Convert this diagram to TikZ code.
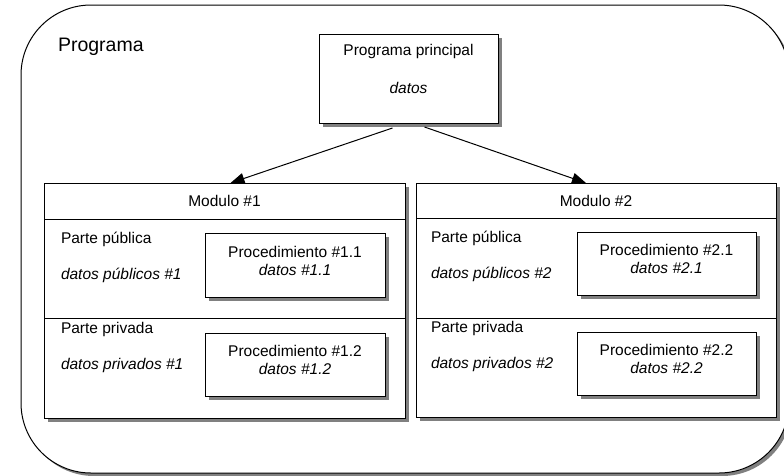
\documentclass[tikz,border=0pt]{standalone}
\usepackage{fontspec}
\setmainfont{Liberation Sans}
\usetikzlibrary{arrows.meta,shadows}
\begin{document}
\begin{tikzpicture}[
    x=1pt, y=-1pt,
    every node/.style={font=\fontsize{15.5}{18}\selectfont, inner sep=0pt, outer sep=0pt},
    box/.style={draw, fill=white, line width=1pt, anchor=north west,
        drop shadow={shadow xshift=4pt, shadow yshift=-4pt, opacity=1, fill=gray}},
    procbox/.style={box, align=center, text depth=9pt},
    txt/.style={anchor=west},
    sep/.style={line width=1pt},
    arrow/.style={-{Triangle[length=14pt,width=11pt]}, line width=1pt}
]
    \useasboundingbox (0,0) rectangle (784,475);

    % Program frame
    \draw[line width=1pt, rounded corners=70pt, fill=white,
        drop shadow={shadow xshift=3pt, shadow yshift=-3pt, opacity=1, fill=gray}]
        (21,5) rectangle (789,473);
    \node[txt, font=\fontsize{19.5}{22}\selectfont] (programa) at (58,47) {Programa};

    % Main program
    \node[box, minimum width=179pt, minimum height=89pt] (principal) at (319,34) {};
    \node (principaltitle) at ([yshift=-17pt]principal.north) {Programa principal};
    \node (principaldatos) at ([yshift=-54pt]principal.north) {\textit{datos}};

    % Module 1
    \node[box, minimum width=361pt, minimum height=235pt] (mod1) at (44,183) {};
    \node (mod1title) at ([yshift=-18pt]mod1.north) {Modulo \#1};
    \draw[sep] ([yshift=-36pt]mod1.north west) -- ([yshift=-36pt]mod1.north east);
    \draw[sep] ([yshift=-135pt]mod1.north west) -- ([yshift=-135pt]mod1.north east);
    \node[txt] (pub1) at (61,239) {Parte pública};
    \node[txt] (pubdatos1) at (61,275) {\textit{datos públicos \#1}};
    \node[txt] (priv1) at (61,329) {Parte privada};
    \node[txt] (privdatos1) at (61,365) {\textit{datos privados \#1}};
    \node[procbox, minimum width=180pt, minimum height=64pt] (proc11) at (205,233)
        {Procedimiento \#1.1\\\textit{datos \#1.1}};
    \node[procbox, minimum width=180pt, minimum height=63pt] (proc12) at (205,333)
        {Procedimiento \#1.2\\\textit{datos \#1.2}};

    % Module 2
    \node[box, minimum width=360pt, minimum height=234pt] (mod2) at (416,183) {};
    \node (mod2title) at ([yshift=-18pt]mod2.north) {Modulo \#2};
    \draw[sep] ([yshift=-35pt]mod2.north west) -- ([yshift=-35pt]mod2.north east);
    \draw[sep] ([yshift=-135pt]mod2.north west) -- ([yshift=-135pt]mod2.north east);
    \node[txt] (pub2) at (431,238) {Parte pública};
    \node[txt] (pubdatos2) at (431,274) {\textit{datos públicos \#2}};
    \node[txt] (priv2) at (431,328) {Parte privada};
    \node[txt] (privdatos2) at (431,364) {\textit{datos privados \#2}};
    \node[procbox, minimum width=179pt, minimum height=63pt] (proc21) at (577,232)
        {Procedimiento \#2.1\\\textit{datos \#2.1}};
    \node[procbox, minimum width=179pt, minimum height=63pt] (proc22) at (577,332)
        {Procedimiento \#2.2\\\textit{datos \#2.2}};

    % Calls
    \draw[arrow] ([shift={(-16,5)}]principal.south) -- ([xshift=6pt]mod1.north);
    \draw[arrow] ([shift={(16,4)}]principal.south) -- ([xshift=-10pt]mod2.north);
\end{tikzpicture}
\end{document}
